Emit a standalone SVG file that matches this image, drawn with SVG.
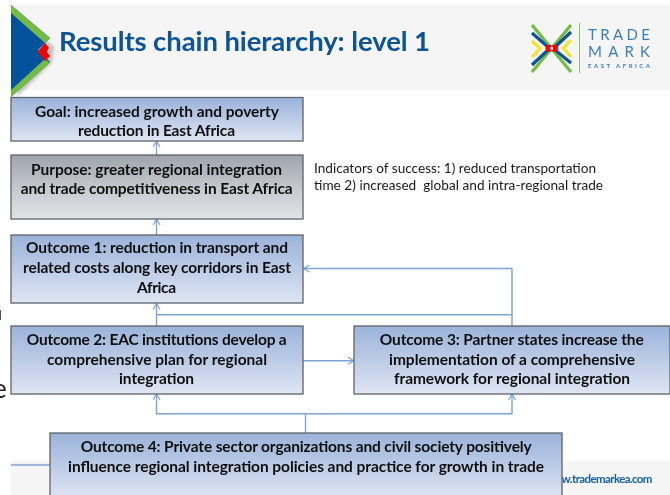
<svg xmlns="http://www.w3.org/2000/svg" width="670" height="495" viewBox="0 0 670 495">
<defs>
<linearGradient id="blue" x1="0" y1="0" x2="0" y2="1"><stop offset="0" stop-color="#9bb3da"/><stop offset="0.5" stop-color="#bccbe6"/><stop offset="1" stop-color="#dfe6f3"/></linearGradient>
<linearGradient id="grey" x1="0" y1="0" x2="0" y2="1"><stop offset="0" stop-color="#9ea3ad"/><stop offset="0.5" stop-color="#c4c7cd"/><stop offset="1" stop-color="#e3e4e8"/></linearGradient>
<marker id="arr" markerUnits="userSpaceOnUse" markerWidth="10" markerHeight="10" refX="7" refY="4" orient="auto"><path d="M1 0.5 L7 4 L1 7.5" fill="none" stroke="#7fa3d3" stroke-width="1.2"/></marker>
<filter id="soft" filterUnits="userSpaceOnUse" x="-10" y="-10" width="690" height="515"><feGaussianBlur stdDeviation="0.4"/></filter>
<filter id="sh" x="-20%" y="-20%" width="140%" height="140%"><feGaussianBlur stdDeviation="1.5"/></filter>
</defs>
<style>
.box{stroke:#5f6368;stroke-width:1.3}
.t{font-family:"Lato","Carlito","Liberation Sans",sans-serif;font-weight:700;font-size:15.5px;fill:#111}
.c{fill:none;stroke:#7fa3d3;stroke-width:1.4}
.a{marker-end:url(#arr)}
.i{font-family:"Lato","Carlito","Liberation Sans",sans-serif;font-size:13.6px;fill:#1a1a1a}
</style>
<g filter="url(#soft)">
<g id="header">
<rect x="11" y="5" width="659" height="85" fill="#f5f5f5"/>
<rect x="11" y="461" width="659" height="34" fill="#f5f5f5"/>
<path d="M15 12 L52 45 L50 60 L15 95 Z" fill="#999" opacity=".55" filter="url(#sh)" transform="translate(2,2)"/>
<path d="M11 5 L50 38 L38 50 L50 62 L11 97 Z" fill="#00539b"/>
<path d="M11 5 L50 38 L45 43 L11 13 Z" fill="#74bb43"/>
<path d="M11 97 L50 63 L45 59 L11 90 Z" fill="#74bb43"/>
<path d="M37.700 51.700 L45 43 L49 47.700 L46.700 51.700 L50 56 L45 61 Z" fill="#f00000"/>
<text x="59" y="51" font-family="Lato,Carlito,'Liberation Sans',sans-serif" font-weight="700" font-size="27.500" fill="#0b5396" textLength="371">Results chain hierarchy: level 1</text>
</g>
<g id="logo">
<g fill="none" stroke-width="3.200">
<path d="M532 25 L571 72 M571 25 L532 72" stroke="#74bb43"/>
<path d="M532 33 L548 47 M532 65 L548 50 M571 32 L555 47 M571 63 L555 50" stroke="#0b5396"/>
<path d="M532 41 L540 48.300 L532 57 M571 40 L563.500 48.300 L571 57" stroke="#f5e42a"/>
</g>
<circle cx="549" cy="48.300" r="3.500" fill="#f00"/><circle cx="554.500" cy="48.300" r="3.500" fill="#f00"/>
<rect x="550.500" y="46.800" width="2.500" height="3" fill="#fff"/>
<rect x="579" y="23" width="1" height="50" fill="#8cc46c"/>
<g font-family="Lato,'Liberation Sans',sans-serif" fill="#3a7fb8">
<text x="588" y="39.500" font-size="15" textLength="62">TRADE</text>
<text x="588" y="57" font-size="15" textLength="62">MARK</text>
<text x="588" y="68" font-size="6" font-weight="700" textLength="62">EAST AFRICA</text>
</g>
</g>
<text id="cut-e" x="-7" y="398" font-family="Lato,sans-serif" font-size="26" fill="#222">e</text>
<rect id="cut-mark" x="0" y="310" width="1" height="10" fill="#555"/>
<text id="url" x="561.500" y="483" font-family="Lato,'Liberation Sans',sans-serif" font-weight="700" font-size="11.500" fill="#14609f" textLength="91">w.trademarkea.com</text>
<g id="connectors">
<path class="c a" d="M156.500 155 V141"/>
<path class="c a" d="M156.500 235 V219"/>
<path class="c a" d="M156.500 326 V303.500"/>
<path class="c" d="M156.500 314.700 H512"/>
<path class="c a" d="M512 326 V268.500 H303.500"/>
<path class="c a" d="M303 360.700 H354"/>
<path class="c a" d="M305.500 433 V413.700 H156.500 V394"/>
<path class="c a" d="M305.500 413.700 H512 V394"/>
<path class="c" d="M11 465 H50"/>
</g>
<g id="goal"><rect class="box" x="11" y="97.500" width="292" height="43.500" fill="url(#blue)"/>
<text class="t" x="35" y="116.500" textLength="244">Goal: increased growth and poverty</text>
<text class="t" x="78" y="135.500" textLength="157">reduction in East Africa</text></g>
<g id="purpose"><rect class="box" x="11" y="155" width="292" height="64" fill="url(#grey)"/>
<text class="t" x="31" y="174.500" textLength="251">Purpose: greater regional integration</text>
<text class="t" x="20.700" y="194" textLength="272">and trade competitiveness in East Africa</text></g>
<g id="outcome1"><rect class="box" x="11" y="235" width="292" height="68" fill="url(#blue)"/>
<text class="t" x="26" y="253" textLength="262">Outcome 1: reduction in transport and</text>
<text class="t" x="23" y="273" textLength="268">related costs along key corridors in East</text>
<text class="t" x="137" y="293" textLength="39">Africa</text></g>
<g id="outcome2"><rect class="box" x="11" y="326" width="292" height="68" fill="url(#blue)"/>
<text class="t" x="26.700" y="345" textLength="260">Outcome 2: EAC institutions develop a</text>
<text class="t" x="47" y="365" textLength="220">comprehensive plan for regional</text>
<text class="t" x="119" y="384" textLength="75">integration</text></g>
<g id="outcome3"><rect class="box" x="354" y="326" width="316" height="68" fill="url(#blue)"/>
<text class="t" x="379.700" y="345" textLength="264">Outcome 3: Partner states increase the</text>
<text class="t" x="389" y="365" textLength="246">implementation of a comprehensive</text>
<text class="t" x="394" y="384" textLength="236">framework for regional integration</text></g>
<g id="outcome4"><rect class="box" x="50" y="433" width="512" height="66" fill="url(#blue)"/>
<text class="t" x="80.700" y="452" textLength="451">Outcome 4: Private sector organizations and civil society positively</text>
<text class="t" x="68" y="472" textLength="476">influence regional integration policies and practice for growth in trade</text></g>
<g id="indicators">
<text class="i" x="314" y="172.500" textLength="282">Indicators of success: 1) reduced transportation</text>
<text class="i" x="314" y="190" textLength="289" xml:space="preserve">time 2) increased  global and intra-regional trade</text>
</g>
</g>
</svg>
